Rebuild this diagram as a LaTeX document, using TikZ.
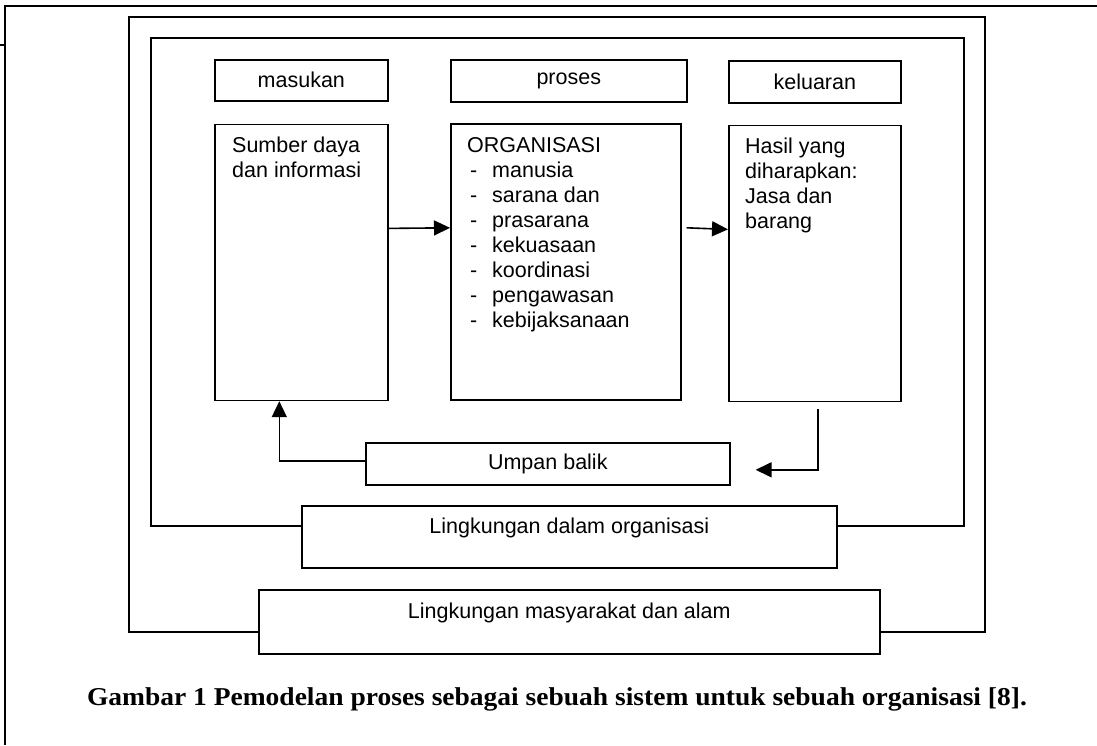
\documentclass[tikz,border=0pt]{standalone}
\usepackage{fontspec}
\setmainfont{Liberation Sans}
\newfontfamily\capfont[FakeStretch=1.07]{Liberation Serif}
\usepackage{tikz}
\usetikzlibrary{arrows.meta,positioning}

\tikzset{
	box/.style={draw,line width=1.6pt,fill=white,inner sep=0pt},
	env/.style={draw,line width=1.6pt},
	arr/.style={line width=1.6pt,-{Triangle[length=16pt,width=15pt]}},
	txt/.style={anchor=north west,align=left,inner sep=0pt}
}
\newcommand{\itm}[1]{\hspace{3pt}\makebox[22pt][l]{-}#1}

\begin{document}
\begin{tikzpicture}[x=1pt,y=-1pt,font=\fontsize{21.5}{25}\selectfont]
	\useasboundingbox (0,0) rectangle (1097,745);
	% page frame
	\draw[line width=2.5pt] (5,745) -- (5,6) -- (1097,6);
	\draw[line width=1.6pt] (0,45) -- (5,45);
	
	% environments
	\draw[env] (129,17) rectangle (985,632);
	\draw[env] (151,38) rectangle (964,526);
	
	\begin{scope}[every node/.style={box}]
		\node[minimum width=173pt,minimum height=41pt,anchor=north west] (in) at (214,59) {masukan};
		\node[minimum width=236pt,minimum height=42pt,anchor=north west] (proc) at (450,59) {proses};
		\node[minimum width=172pt,minimum height=42pt,anchor=north west] (out) at (728,60) {keluaran};
		
		\node[minimum width=173pt,minimum height=276pt,below=22pt of in] (src) {};
		\node[minimum width=230pt,minimum height=276pt,anchor=north west] (org) at (450,123) {};
		\node[minimum width=172pt,minimum height=276pt,below=21pt of out] (res) {};
		
		\node[minimum width=364pt,minimum height=42pt,anchor=north west] (fb) at (365,442) {Umpan balik};
		
		\node[minimum width=535pt,minimum height=62pt,text depth=22pt,anchor=north west] (env1) at (301,505) {Lingkungan dalam organisasi};
		\node[minimum width=621pt,minimum height=64pt,text depth=22pt,anchor=north west] (env2) at (258,589) {Lingkungan masyarakat dan alam};
	\end{scope}
	
	\node[txt] (srctext) at ([shift={(18,13)}]src.north west) {Sumber daya\\dan informasi};
	\node[txt] (orgtext) at ([shift={(17,14)}]org.north west) {ORGANISASI\\\itm{manusia}\\\itm{sarana dan}\\\itm{prasarana}\\\itm{kekuasaan}\\\itm{koordinasi}\\\itm{pengawasan}\\\itm{kebijaksanaan}};
	\node[txt] (restext) at ([shift={(17,13)}]res.north west) {Hasil yang\\diharapkan:\\Jasa dan\\barang};
	
	\draw[arr] ([yshift=34pt]src.east) -- ([yshift=34pt]org.west);
	\draw[arr] ([xshift=5pt,yshift=34pt]org.east) -- ([yshift=34pt]res.west);
	\draw[arr] ([shift={(3,7)}]res.south) |- ([shift={(25,6)}]fb.east);
	\draw[arr] ([yshift=3pt]fb.west) -| ([xshift=-22pt]src.south);
	
	\node[font=\capfont\bfseries\fontsize{25.7}{30}\selectfont] (cap) at (557,699) {Gambar 1 Pemodelan proses sebagai sebuah sistem untuk sebuah organisasi [8].};
\end{tikzpicture}
\end{document}
